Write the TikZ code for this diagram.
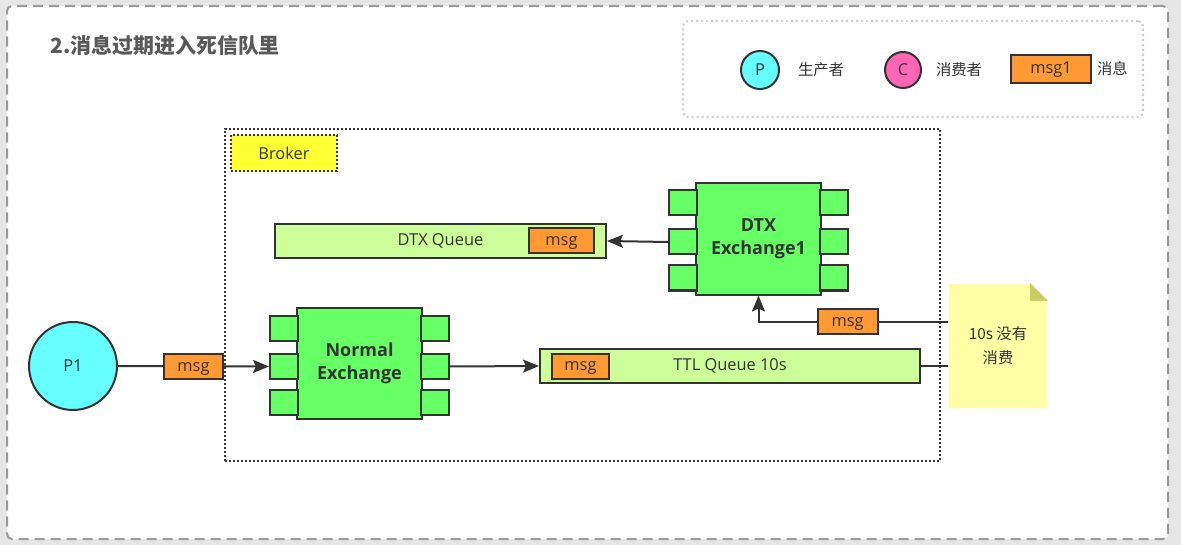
\documentclass[tikz,border=0pt]{standalone}
\usepackage{fontspec}
\setmainfont{Open Sans}
\newfontfamily\cjk{Noto Sans CJK SC}
\usepackage{xcolor}
\newlength{\px}
\setlength{\px}{0.75pt}
\usepackage{tikz}
\usetikzlibrary{positioning}
\usetikzlibrary{arrows.meta}
\usetikzlibrary{calc}
\definecolor{ink}{HTML}{333333}
\definecolor{bggray}{HTML}{E6E6E6}
\definecolor{framegray}{HTML}{999999}
\definecolor{dotgray}{HTML}{CCCCCC}
\definecolor{titlegray}{HTML}{595959}
\definecolor{pcyan}{HTML}{66FFFF}
\definecolor{cpink}{HTML}{FF66B3}
\definecolor{msgorange}{HTML}{FF9933}
\definecolor{exgreen}{HTML}{66FF66}
\definecolor{qgreen}{HTML}{CCFF99}
\definecolor{tagyellow}{HTML}{FFFF33}
\definecolor{noteyellow}{HTML}{FFFFA6}
\definecolor{foldolive}{HTML}{CCCC66}
\tikzstyle{frame}=[draw=framegray, fill=white, rounded corners=5\px, line width=2\px, dash pattern=on 10\px off 6\px]
\tikzstyle{legendbox}=[draw=dotgray, rounded corners=5\px, line width=2\px, dash pattern=on 2\px off 3\px]
\tikzstyle{brokerbox}=[draw=ink, line width=2\px, dash pattern=on 2\px off 2\px]
\tikzstyle{brokertag}=[draw=ink, fill=tagyellow, line width=2\px, dash pattern=on 2\px off 2\px, minimum width=106\px, minimum height=36\px]
\tikzstyle{agent}=[draw=ink, circle, line width=2\px, inner sep=0pt]
\tikzstyle{exch}=[draw=ink, fill=exgreen, line width=2\px, minimum width=125\px, minimum height=111\px, align=center, font=\bfseries\fontsize{13.5}{17}\selectfont]
\tikzstyle{port}=[draw=ink, fill=exgreen, line width=2\px, minimum width=28\px, minimum height=25\px]
\tikzstyle{queue}=[draw=ink, fill=qgreen, line width=2\px, minimum height=34\px]
\tikzstyle{msg}=[draw=ink, fill=msgorange, line width=2\px, minimum width=60\px, minimum height=25\px, inner sep=0pt, text height=1.6ex, text depth=0.2ex]
\tikzstyle{cjktext}=[inner sep=0pt, font=\cjk\fontsize{11.5}{14}\selectfont]
\tikzstyle{notebox}=[fill=noteyellow, align=center, font=\cjk\fontsize{11.5}{18}\selectfont]

\begin{document}
\begin{tikzpicture}[x=\px, y=-\px, line width=2\px, color=ink, font=\fontsize{12.3}{15}\selectfont, -{Stealth[length=12pt, width=9.75pt, inset=2.25pt]}]

				\fill [bggray] (0,0) rectangle (1181,545);
				\node (frame) [frame, minimum width=1161\px, minimum height=533\px] at (587.5,272.5) {};
				\node (title) [anchor=west, text=titlegray, font=\cjk\bfseries\fontsize{15.7}{18}\selectfont] at (45,45) {2.消息过期进入死信队里};
				
				% legend
				\node (legend) [legendbox, minimum width=460\px, minimum height=96\px] at (913,69) {};
				\node (lp) [agent, fill=pcyan, minimum size=38\px] at (760,70) {P};
				\node (lptext) [cjktext, right=17\px of lp] {生产者};
				\node (lc) [agent, fill=cpink, minimum size=36\px] at (903,70) {C};
				\node (lctext) [cjktext, right=13\px of lc] {消费者};
				\node (lm) [msg, minimum width=80\px, minimum height=28\px] at (1051,69) {msg1};
				\node (lmtext) [cjktext, right=4\px of lm] {消息};
				
				% broker
				\node (broker) [brokerbox, minimum width=715\px, minimum height=332\px] at (582.5,295) {};
				\node (blabel) [brokertag, below right=6\px and 6\px of broker.north west] {Broker};
				
				\node (p1) [agent, fill=pcyan, minimum size=88\px] at (73,366) {P1};
				
				\node (nx) [exch] at (359.5,363.5) {Normal\\Exchange};
				\node (nl1) [port, left=-3\px of nx.west, yshift=35\px] {};
				\node (nl2) [port, left=-3\px of nx.west, yshift=-3\px] {};
				\node (nl3) [port, left=-3\px of nx.west, yshift=-39\px] {};
				\node (nr1) [port, right=-3\px of nx.east, yshift=35\px] {};
				\node (nr2) [port, right=-3\px of nx.east, yshift=-3\px] {};
				\node (nr3) [port, right=-3\px of nx.east, yshift=-39\px] {};
				
				\node (ttlq) [queue, minimum width=380\px] at (730,366) {TTL Queue 10s};
				\node (ttlmsg) [msg, minimum width=57\px, right=12\px of ttlq.west] {msg};
				
				\node (dtxq) [queue, minimum width=331\px] at (440.5,241) {DTX Queue};
				\node (dtxmsg) [msg, minimum width=65\px, left=12\px of dtxq.east] {msg};
				
				\node (dx) [exch] at (758.5,239) {DTX\\Exchange1};
				\node (dl1) [port, left=-3\px of dx.west, yshift=36\px] {};
				\node (dl2) [port, left=-3\px of dx.west, yshift=-3\px] {};
				\node (dl3) [port, left=-3\px of dx.west, yshift=-39\px] {};
				\node (dr1) [port, right=-3\px of dx.east, yshift=36\px] {};
				\node (dr2) [port, right=-3\px of dx.east, yshift=-3\px] {};
				\node (dr3) [port, right=-3\px of dx.east, yshift=-39\px] {};
				
				% note with folded corner
				\node (note) [notebox, minimum width=98\px, minimum height=124\px] at (998,346) {10s 没有\\消费};
				\fill [-, white] ($(note.north east)+(-18,0)$) -- (note.north east) -- ($(note.north east)+(0,18)$) -- cycle;
				\fill [-, foldolive] ($(note.north east)+(-18,0)$) -- ($(note.north east)+(0,18)$) -- ($(note.north east)+(-18,18)$) -- cycle;
				\coordinate (expire) at ($(note.north west)!0.306!(note.south west)$);
				
				\draw (p1.east) -- node (m1) [msg, minimum width=59\px] {msg} (nl2.west);
				\draw (nr2.east) -- (ttlq.west);
				\draw (dl2.west) -- (dtxq.east);
				\draw [-] (ttlq.east) -- (ttlq.east -| note.west);
				\draw (expire) -- node (m4) [msg, pos=0.53] {msg} (expire -| dx.south) -- (dx.south);
				\end{tikzpicture}
\end{document}
